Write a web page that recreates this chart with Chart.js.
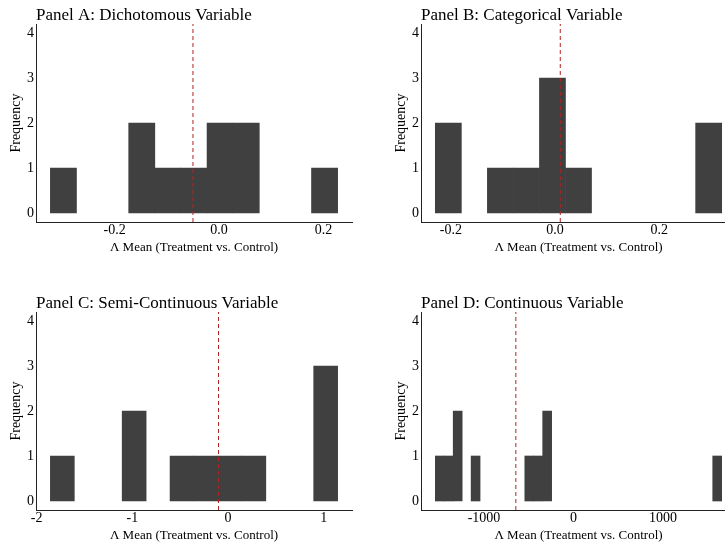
<!DOCTYPE html>
<html>
<head>
<meta charset="utf-8">
<script src="https://cdn.jsdelivr.net/npm/chart.js@4.4.1/dist/chart.umd.min.js"></script>
<style>
  html, body { margin: 0; padding: 0; background: #fff; overflow: hidden; }
  #wrap { position: relative; width: 725px; height: 545px; overflow: hidden; }
  .panel { position: absolute; }
  .panel canvas { display: block; }
</style>
</head>
<body>
<div id="wrap">
  <div class="panel" style="left:0;top:0"><canvas id="panelA" width="362" height="272"></canvas></div>
  <div class="panel" style="left:362px;top:0"><canvas id="panelB" width="380" height="272"></canvas></div>
  <div class="panel" style="left:0;top:272px"><canvas id="panelC" width="362" height="280"></canvas></div>
  <div class="panel" style="left:362px;top:272px"><canvas id="panelD" width="380" height="280"></canvas></div>
</div>
<script>
// shared axis text
const xTitle = 'Λ Mean (Treatment vs. Control)';
const yTitle = 'Frequency';
const yTicks = [0, 1, 2, 3, 4];
const yLabels = ['0', '1', '2', '3', '4'];
const yRange = [-0.2, 4.2];

// Panel A: dichotomous (bin width 0.05, bin centres)
const binsA = [-0.298, -0.148, -0.098, -0.048, 0.002, 0.052, 0.202];
const countsA = [1, 2, 1, 1, 2, 2, 1];
const meanA = -0.05;
const xRangeA = [-0.3505, 0.2545];
const xTicksA = [-0.2, 0.0, 0.2];
const xLabelsA = ['-0.2', '0.0', '0.2'];

// Panel B: categorical (bin width 0.05)
const binsB = [-0.205, -0.105, -0.055, -0.005, 0.045, 0.295];
const countsB = [2, 1, 1, 3, 1, 2];
const meanB = 0.01;
const xRangeB = [-0.2575, 0.3475];
const xTicksB = [-0.2, 0.0, 0.2];
const xLabelsB = ['-0.2', '0.0', '0.2'];

// Panel C: semi-continuous (bin width 0.25)
const binsC = [-1.731, -0.981, -0.481, -0.231, 0.019, 0.269, 1.019];
const countsC = [1, 2, 1, 1, 1, 1, 3];
const meanC = -0.1;
const xRangeC = [-2.006, 1.294];
const xTicksC = [-2, -1, 0, 1];
const xLabelsC = ['-2', '-1', '0', '1'];

// Panel D: continuous (bin width 100)
const binsD = [-1494, -1394, -1294, -1094, -494, -394, -294, 1606];
const countsD = [1, 1, 2, 1, 1, 1, 2, 1];
const meanD = -644;
const xRangeD = [-1704, 1816];
const xTicksD = [-1000, 0, 1000];
const xLabelsD = ['-1000', '0', '1000'];

const SERIF = "'Liberation Serif', 'Times New Roman', serif";
Chart.defaults.font.family = SERIF;
Chart.defaults.color = '#000';

function makePanel(id, title, bins, counts, mean, xRange, xTicks, xLabels, pad) {
  new Chart(document.getElementById(id), {
    type: 'bar',
    data: {
      datasets: [
        {
          type: 'bar',
          data: bins.map((b, i) => ({ x: b, y: counts[i] })),
          backgroundColor: '#404040',
          borderWidth: 0,
          barPercentage: 1,
          categoryPercentage: 1,
          order: 1
        },
        {
          type: 'line',
          data: [{ x: mean, y: yRange[0] }, { x: mean, y: yRange[1] }],
          borderColor: '#b22222',
          borderWidth: 1,
          borderDash: [4, 3],
          pointRadius: 0,
          order: 0
        }
      ]
    },
    options: {
      responsive: false,
      animation: false,
      layout: { padding: pad },
      plugins: {
        legend: { display: false },
        tooltip: { enabled: false },
        title: {
          display: true,
          text: title,
          align: 'start',
          fullSize: false,
          color: '#000',
          font: { size: 17, weight: 'normal' },
          padding: { top: 2, bottom: -2 }
        }
      },
      scales: {
        x: {
          type: 'linear',
          min: xRange[0],
          max: xRange[1],
          offset: false,
          grid: { display: false, drawTicks: false },
          border: { display: true, color: '#222', width: 1 },
          afterBuildTicks: s => { s.ticks = xTicks.map(v => ({ value: v })); },
          afterFit: s => { s.height = 40; },
          ticks: {
            callback: (v, i) => xLabels[i],
            padding: 0,
            maxRotation: 0,
            autoSkip: false,
            color: '#000',
            font: { size: 14 }
          },
          title: {
            display: true,
            text: xTitle,
            color: '#000',
            font: { size: 13 },
            padding: { top: 0, bottom: 7 }
          }
        },
        y: {
          min: yRange[0],
          max: yRange[1],
          grid: { display: false, drawTicks: false },
          border: { display: true, color: '#222', width: 1 },
          afterBuildTicks: s => { s.ticks = yTicks.map(v => ({ value: v })); },
          afterFit: s => { s.width = 36; },
          ticks: {
            callback: (v, i) => yLabels[i],
            padding: 2,
            color: '#000',
            font: { size: 14 }
          },
          title: {
            display: true,
            text: yTitle,
            color: '#000',
            font: { size: 14 },
            padding: { top: 8, bottom: 0 }
          }
        }
      }
    }
  });
}

makePanel('panelA', 'Panel A: Dichotomous Variable', binsA, countsA, meanA, xRangeA, xTicksA, xLabelsA,
  { top: 3.6, left: 0, right: 10, bottom: 10 });
makePanel('panelB', 'Panel B: Categorical Variable', binsB, countsB, meanB, xRangeB, xTicksB, xLabelsB,
  { top: 3.6, left: 23, right: 6, bottom: 10 });
makePanel('panelC', 'Panel C: Semi-Continuous Variable', binsC, countsC, meanC, xRangeC, xTicksC, xLabelsC,
  { top: 19.6, left: 0, right: 10, bottom: 2 });
makePanel('panelD', 'Panel D: Continuous Variable', binsD, countsD, meanD, xRangeD, xTicksD, xLabelsD,
  { top: 19.6, left: 23, right: 6, bottom: 2 });
</script>
</body>
</html>
